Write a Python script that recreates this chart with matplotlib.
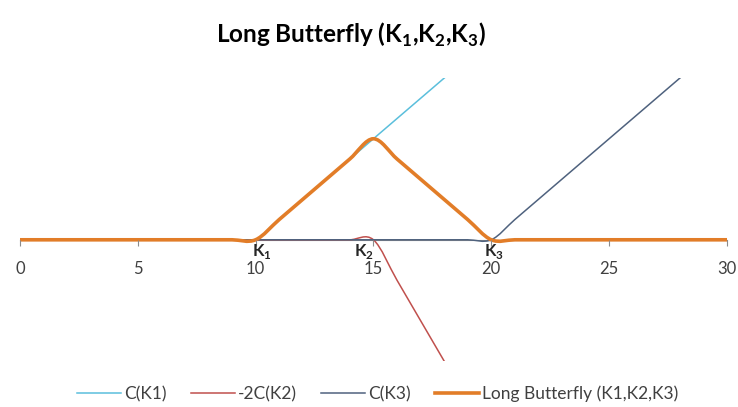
import numpy as np
import matplotlib
matplotlib.use("Agg")
import matplotlib.pyplot as plt
from matplotlib.path import Path
from matplotlib.patches import PathPatch
from matplotlib.lines import Line2D

plt.rcParams['font.family'] = ['Lato', 'DejaVu Sans']
plt.rcParams['mathtext.fontset'] = 'custom'
plt.rcParams['mathtext.rm'] = 'Lato'
plt.rcParams['mathtext.bf'] = 'Lato:bold'

# underlying price at expiry
price = [0, 1, 2, 3, 4, 5, 6, 7, 8, 9, 10, 11, 12, 13, 14, 15,
         16, 17, 18, 19, 20, 21, 22, 23, 24, 25, 26, 27, 28, 29, 30]
c_k1 = [0, 0, 0, 0, 0, 0, 0, 0, 0, 0, 0, 1, 2, 3, 4, 5,
        6, 7, 8, 9, 10, 11, 12, 13, 14, 15, 16, 17, 18, 19, 20]
neg2_c_k2 = [0, 0, 0, 0, 0, 0, 0, 0, 0, 0, 0, 0, 0, 0, 0, 0,
             -2, -4, -6, -8, -10, -12, -14, -16, -18, -20, -22, -24, -26, -28, -30]
c_k3 = [0, 0, 0, 0, 0, 0, 0, 0, 0, 0, 0, 0, 0, 0, 0, 0,
        0, 0, 0, 0, 0, 1, 2, 3, 4, 5, 6, 7, 8, 9, 10]
butterfly = [0, 0, 0, 0, 0, 0, 0, 0, 0, 0, 0, 1, 2, 3, 4, 5,
             4, 3, 2, 1, 0, 0, 0, 0, 0, 0, 0, 0, 0, 0, 0]

series_names = ['C(K1)', '-2C(K2)', 'C(K3)', 'Long Butterfly (K1,K2,K3)']
strike_labels = [r'K$_\mathbf{1}$', r'K$_\mathbf{2}$', r'K$_\mathbf{3}$']
strikes = [10, 15, 20]
x_ticks = [0, 5, 10, 15, 20, 25, 30]

colors = ['#5bbfdc', '#c0504d', '#4f627e', '#e27d28']
widths = [1.1, 1.1, 1.1, 2.6]


def smooth_path(xs, ys):
    # excel style smoothed line (catmull-rom as bezier)
    pts = np.column_stack([xs, ys]).astype(float)
    n = len(pts)
    verts = [pts[0]]
    codes = [Path.MOVETO]
    for i in range(n - 1):
        p0 = pts[max(i - 1, 0)]
        p1 = pts[i]
        p2 = pts[i + 1]
        p3 = pts[min(i + 2, n - 1)]
        verts += [p1 + (p2 - p0) / 6, p2 - (p3 - p1) / 6, p2]
        codes += [Path.CURVE4] * 3
    return Path(verts, codes)


fig = plt.figure(figsize=(7.38, 4.07), dpi=100)
ax = fig.add_axes([0.027, 0.113, 0.958, 0.695])

for ys, c, lw in zip([c_k1, neg2_c_k2, c_k3, butterfly], colors, widths):
    patch = PathPatch(smooth_path(price, ys), facecolor='none', edgecolor=c,
                      linewidth=lw, capstyle='round', joinstyle='round')
    ax.add_patch(patch)

ax.set_xlim(0, 30)
ax.set_ylim(-6, 8)
for s in ['top', 'right', 'left']:
    ax.spines[s].set_visible(False)
ax.spines['bottom'].set_position(('data', 0))
ax.spines['bottom'].set_color('#8c8c8c')
ax.spines['bottom'].set_zorder(0)
ax.set_xticks(x_ticks)
ax.set_yticks([])
ax.tick_params(axis='x', direction='out', length=4, color='#8c8c8c',
               pad=11, labelsize=12, labelcolor='#404040')

offsets = [0.25, -0.4, 0.1]
for k, lab, dx in zip(strikes, strike_labels, offsets):
    ax.text(k + dx, -0.1, lab, ha='center', va='top', fontsize=12,
            fontweight='bold', color='#262626')

fig.text(0.476, 0.914, r'Long Butterfly (K$_\mathbf{1}$,K$_\mathbf{2}$,K$_\mathbf{3}$)',
         ha='center', va='center', fontsize=17.5, fontweight='bold')

handles = [Line2D([], [], color=c, linewidth=lw) for c, lw in zip(colors, widths)]
fig.legend(handles, series_names, loc='center', bbox_to_anchor=(0.512, 0.032),
           ncol=4, frameon=False, fontsize=12.5, handlelength=2.5,
           handletextpad=0.2, columnspacing=1.4, labelcolor='#404040')

fig.savefig('out.png', dpi=100)
